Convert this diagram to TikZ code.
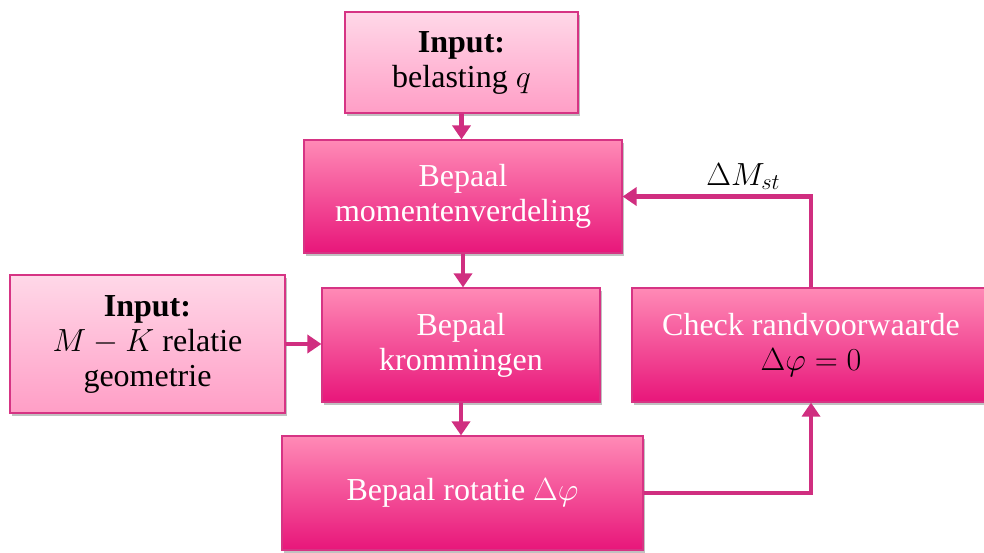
\RequirePackage{fix-cm}
\documentclass[tikz,border=0pt]{standalone}
\usepackage{fontspec}
\setmainfont{Liberation Serif}
\usetikzlibrary{arrows.meta,shadows,positioning}

\definecolor{rim}{RGB}{214,52,132}
\definecolor{wire}{RGB}{208,46,128}
\definecolor{lighttop}{RGB}{255,216,232}
\definecolor{lightbot}{RGB}{255,158,198}
\definecolor{darktop}{RGB}{255,138,182}
\definecolor{darkbot}{RGB}{232,22,122}

\tikzset{
  basebox/.style={draw=rim, line width=1.2pt, rectangle, align=center,
    inner sep=2pt,
    font=\fontsize{32}{35}\selectfont,
    drop shadow={shadow xshift=2pt, shadow yshift=-3pt, opacity=0.35, fill=black!70}},
  inputbox/.style={basebox, top color=lighttop, bottom color=lightbot, text=black},
  stepbox/.style={basebox, top color=darktop, bottom color=darkbot, text=white},
  flow/.style={draw=wire, line width=4.5pt,
    -{Triangle[width=18pt,length=14pt]}},
  lbl/.style={font=\fontsize{32}{35}\selectfont, text=black}
}

\begin{document}
\begin{tikzpicture}[x=1pt,y=-1pt]
  \useasboundingbox (0,0) rectangle (984,552);

  % boxes
  \node[inputbox, minimum width=233, minimum height=101] (q) at (461.5,62.5)
    {\textbf{Input:}\\belasting $q$};
  \node[stepbox, minimum width=318, minimum height=113] (mom) at (463,196.5)
    {Bepaal\\momentenverdeling};
  \node[stepbox, minimum width=278, minimum height=114] (kr) at (461,345)
    {Bepaal\\krommingen};
  \node[inputbox, minimum width=275, minimum height=138] (mk) at (147.5,344)
    {\textbf{Input:}\\$M-K$ relatie\\geometrie};
  \node[stepbox, minimum width=358, minimum height=114] (chk) at (811,345)
    {Check randvoorwaarde\\\textcolor{black}{$\Delta\varphi = 0$}};
  \node[stepbox, minimum width=361, minimum height=114] (rot) at (462.5,493)
    {Bepaal rotatie $\Delta\varphi$};

  % connectors
  \draw[flow] (q.south) -- (q.south |- mom.north);
  \draw[flow] (mom.south) -- (mom.south |- kr.north);
  \draw[flow] (kr.south) -- (kr.south |- rot.north);
  \draw[flow] (mk.east) -- (mk.east -| kr.west);
  \draw[flow] (rot.east) -| (chk.south);
  \draw[flow] (chk.north) |- node[lbl, pos=0.68, above=1pt] (dm) {$\Delta M_{st}$} (mom.east);
\end{tikzpicture}
\end{document}
